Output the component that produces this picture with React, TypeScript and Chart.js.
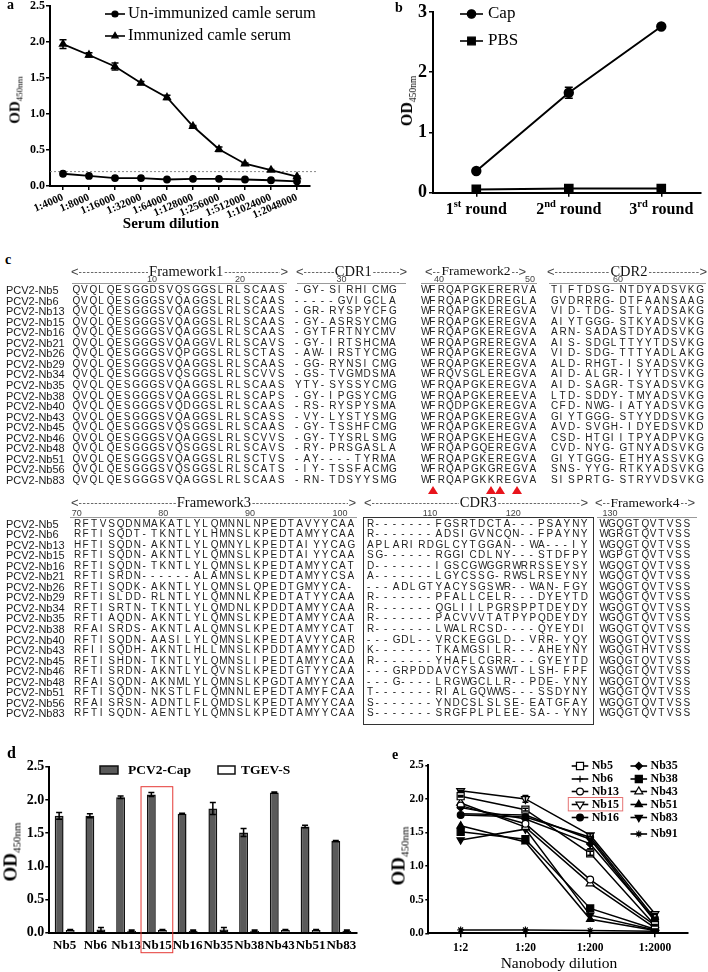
import React, { useEffect, useRef } from 'react';
import { Chart, registerables } from 'chart.js';
import { drawPoint } from 'chart.js/helpers';

Chart.register(...registerables);
Chart.defaults.color = '#000';

const SERIF = '"Liberation Serif", "Times New Roman", serif';
const SANS = '"Liberation Sans", Arial, sans-serif';

// ---------------- Panel a data ----------------
const serumDilutions = ['1:4000', '1:8000', '1:16000', '1:32000', '1:64000', '1:128000', '1:256000', '1:512000', '1:1024000', '1:2048000'];
const unimmunizedOD = [0.17, 0.14, 0.11, 0.11, 0.09, 0.1, 0.1, 0.09, 0.08, 0.065];
const immunizedOD = [1.97, 1.82, 1.66, 1.43, 1.23, 0.83, 0.51, 0.31, 0.22, 0.13];
const immunizedErr = [0.06, 0.03, 0.05, 0.02, 0.03, 0.01, 0.03, 0.01, 0.01, 0.01];
const cutoffOD = 0.2;

// ---------------- Panel b data ----------------
const roundNumbers = ['1', '2', '3'];
const roundSuffixes = ['st', 'nd', 'rd'];
const capOD = [0.36, 1.66, 2.76];
const capErr = [0.02, 0.09, 0.02];
const pbsOD = [0.055, 0.07, 0.07];

// ---------------- Panel c data ----------------
const seqNames = ['PCV2-Nb5', 'PCV2-Nb6', 'PCV2-Nb13', 'PCV2-Nb15', 'PCV2-Nb16', 'PCV2-Nb21', 'PCV2-Nb26', 'PCV2-Nb29', 'PCV2-Nb34', 'PCV2-Nb35', 'PCV2-Nb38', 'PCV2-Nb40', 'PCV2-Nb43', 'PCV2-Nb45', 'PCV2-Nb46', 'PCV2-Nb48', 'PCV2-Nb51', 'PCV2-Nb56', 'PCV2-Nb83'];
const fw1Seqs = ['QVQLQESGGDSVQSGGSLRLSCAAS', 'QVQLQESGGGSVQAGGSLRLSCAAS', 'QVQLQESGGGSVQAGGSLRLSCAAS', 'QVQLQESGGGSVQAGGSLRLSCAAS', 'QVQLQESGGGSVQAGGSLRLSCAAS', 'QVQLQESGGGSVQAGGVLRLSCAVS', 'QVQLQESGGGSVQPGGSLRLSCTAS', 'QVQLQESGGGSVQAGGSLRLSCAAS', 'QVQLQESGGGSVQSGGSLRLSCVVS', 'QVQLQESGGGSVQAGGSLRLSCAAS', 'QVQLQESGGGSVQAGGSLRLSCAPS', 'QVQLQESGGGSVQDGGSLRLSCAAS', 'QVQLQESGGGSVQAGGSLRLSCASS', 'QVQLQESGGGSVQSGGSLRLSCAAS', 'QVQLQESGGGSVQAGGSLRLSCVVS', 'QVQLQESGGGSVQSGGSLRLSCAVS', 'QVQLQESGGGSVQAGGSLRLSCTVS', 'QVQLQESGGGSVQSGGSLRLSCATS', 'QVQLQESGGGSVQAGGSLRLSCAAS'];
const cdr1Seqs = ['-GY-SIRHICMG', '-----GVIGCLA', '-GR-RYSPYCFG', '-GY-ASRSYCMG', '-GYTFRTNYCMV', '-GY-IRTSHCMA', '-AW-IRSTYCMG', '-GG-RYNSICMG', '-GS-TVGMDSMA', 'YTY-SYSSYCMG', '-GY-IPGSYCMG', '-RS-RYSPYSMA', '-VY-LYSTYSMG', '-GY-TSSHFCMG', '-GY-TYSRLSMG', '-RY-PRSGASLA', '-AY----TYRMA', '-IY-TSSFACMG', '-RN-TDSYYSMG'];
const fw2Seqs = ['WFRQAPGKERERVA', 'WFRQAPGKDREGLA', 'WFRQAPGKEREGVA', 'WFRQAPGKEREGVA', 'WFRQAPGKEREGVA', 'WFRQAPGREREGVA', 'WFRQAPGKEREGVA', 'WFRQAPGKEREGVA', 'WFRQVSGLEREGVA', 'WFRQAPGKEREGVA', 'WFRQAPGKEREEVA', 'WFRQDPGKEREGVA', 'WFRQAPGKEREGVA', 'WFRQAPGKEREGVA', 'WFRQAPGKEHEGVA', 'WFRQAPGQEREGVA', 'WFRQAPGKEREGVA', 'WFRQAPGKGREGVA', 'WFRQAPGKKREGVA'];
const cdr2Seqs = ['TIFTDSG-NTDYADSVKG', 'GVDRRRG-DTFAANSAAG', 'VID-TDG-STLYADSAKG', 'AIYTGGG-STKYADSVKG', 'ARN-SADASTDYADSVKG', 'AIS-SDGLTTYYTDSVKG', 'VID-SDG-TTTYADLAKG', 'ALD-RHGT-ISYADSVKG', 'AID-ALGR-IYYTDSVKG', 'AID-SAGR-TSYADSVKG', 'LTD-SDDY-TMYADSVKG', 'CFD-NWG-IATYADSVKG', 'GIYTGGG-STYYDDSVKG', 'AVD-SVGH-IDYEDSVKD', 'CSD-HTGIITPYADPVKG', 'CVD-NYG-GTNYADSVKG', 'GIYTGGG-ETHYASSVKG', 'SNS-YYG-RTKYADSVKG', 'SISPRTG-STRYVDSVKG'];
const fw3Seqs = ['RFTVSQDNMAKATLYLQMNNLNPEDTAVYYCAA', 'RFTISQDT-TKNTLYLHMNSLKPEDTAMYYCAA', 'HFTISQDN-AKNTLYLQMNYLKPEDTAIYYCAG', 'RFTISQDN-AKNTLYLQMNSLKPEDTAIYYCAA', 'RFTISQDN-TKNTLYLQMNSLKPEDTAMYYCAT', 'RFTISRDN------ALAMNSLKPEDTAMYYCSA', 'RFTISQDK-AKNTLYLQMNSLQPEDTGMYYCA-', 'RFTISLDD-RLNTLYLQMNNLKPEDTATYYCAA', 'RFTISRTN-TKNTLYLQMDNLKPDDTAMYYCAA', 'RFTIAQDN-AKNTLYLQMNSLKPEDTAMYYCAA', 'RFAISRDS-AKNTLALQMNSLKPEDTAMYYCAT', 'RFTISQDN-AASILYLQMNSLKPEDTAVYYCAR', 'RFIISQDH-AKNTLHLLMNSLKPDDTAMYYCAD', 'RFTISHDN-TKNTLYLQMNSLIPEDTAMYYCAA', 'RFTISRDN-AKNTLYLQVNSLKPEDTGTYYCAA', 'RFAISQDN-AKNMLYLQMNSLKPGDTAMYYCAA', 'RFTISQDN-NKSTLFLQMNNLEPEDTAMYFCAA', 'RFAISRSN-ADNTLFLQMDSLKPEDTAMYYCAA', 'RFTISQDN-AENTLYLQMNSLKPEDTAMYYCAA'];
const cdr3Seqs = ['R-------FGSRTDCTA---PSAYNY', 'R-------ADSIGVNCQN--FPAYNY', 'APLARIRDGLCYTGGAN--WA---IY', 'SG------RGGICDLNY---STDFPY', 'D-------IGSCGWGGRWRRSSEYSY', 'A-------LGYCSSG-RWSLRSEYNY', '---ADLGTYACYSGSWR--WAN-FGY', 'R-------PFALLCELR---DYEYTD', 'R-------QGLIILPGRSPPTDEYDY', 'R-------PACVVVTATPYPQDEYDY', 'R-------LWALRCSD----QYEYDI', '---GDL--VRCKEGGLD--VRR-YQY', 'K-------TKAMGSILR---AHEYNY', 'R-------YHAFLCGRR---GYEYTD', '---GRPDDAVCYSASWWT-LSH-FPF', '---G----LRGWGCLLR--PDE-YNY', 'T-------RIALGQWWS---SSDYNY', 'S-------YNDCSLSLSE-EATGFAY', 'S-------SRGFPLPLEE-SA--YNY'];
const fw4Seqs = ['WGQGTQVTVSS', 'WGRGTQVTVSS', 'WGQGTQVTVSS', 'WGPGTQVTVSS', 'WGQGTQVTVSS', 'WGQGTQVTVSS', 'WGQGTQVTVSS', 'WGQGTQVTVSS', 'WGQGTQVTVSS', 'WGQGTQVTVSS', 'WGQGTQVTVSS', 'WGQGTQVTVSS', 'WGQGTHVTVSS', 'WGQGTQVTVSS', 'WGQGTQVTVSS', 'WGQGTQVTVSS', 'WGQGTQVTVSS', 'WGQGTQVTVSS', 'WGQGTQVTVSS'];
const hallmarkIdx = [1, 8, 9, 11];

// ---------------- Panel d data ----------------
const nanobodiesD = ['Nb5', 'Nb6', 'Nb13', 'Nb15', 'Nb16', 'Nb35', 'Nb38', 'Nb43', 'Nb51', 'Nb83'];
const pcv2CapOD = [1.76, 1.76, 2.04, 2.08, 1.79, 1.87, 1.51, 2.11, 1.6, 1.38];
const pcv2CapErr = [0.05, 0.03, 0.02, 0.03, 0.01, 0.09, 0.06, 0.01, 0.02, 0.01];
const tgevOD = [0.04, 0.05, 0.03, 0.04, 0.03, 0.05, 0.03, 0.04, 0.04, 0.03];
const tgevErr = [0.01, 0.03, 0.01, 0.01, 0.01, 0.03, 0.01, 0.01, 0.01, 0.01];
const highlightNb = 'Nb15';

// ---------------- Panel e data ----------------
const nanobodyDilutions = ['1:2', '1:20', '1:200', '1:2000'];
const odNb5 = [2.04, 1.84, 1.19, 0.12];
const odNb6 = [1.78, 1.76, 1.4, 0.18];
const odNb13 = [1.9, 1.63, 0.8, 0.12];
const odNb15 = [2.12, 2.0, 1.46, 0.29];
const odNb16 = [1.76, 1.73, 1.43, 0.22];
const odNb35 = [1.87, 1.7, 1.33, 0.2];
const odNb38 = [1.51, 1.4, 0.37, 0.06];
const odNb43 = [1.94, 1.58, 0.74, 0.08];
const odNb51 = [1.6, 1.36, 0.21, 0.04];
const odNb83 = [1.39, 1.55, 0.27, 0.05];
const odNb91 = [0.05, 0.05, 0.04, 0.03];
const errNb5 = [0.01, 0.02, 0.03, 0.01];
const errNb15 = [0.01, 0.05, 0.02, 0.01];
const errNb35 = [0.01, 0.01, 0.07, 0.01];

const eSeries = [
  { label: 'Nb5', data: odNb5, err: errNb5, pointStyle: 'rect', fill: '#fff', radius: 5, rotation: 0 },
  { label: 'Nb6', data: odNb6, err: null, pointStyle: 'cross', fill: '#000', radius: 3.2, rotation: 0 },
  { label: 'Nb13', data: odNb13, err: null, pointStyle: 'circle', fill: '#fff', radius: 3.4, rotation: 0 },
  { label: 'Nb15', data: odNb15, err: errNb15, pointStyle: 'triangle', fill: '#fff', radius: 4.6, rotation: 180 },
  { label: 'Nb16', data: odNb16, err: null, pointStyle: 'circle', fill: '#000', radius: 3.4, rotation: 0 },
  { label: 'Nb35', data: odNb35, err: errNb35, pointStyle: 'rectRot', fill: '#000', radius: 3.6, rotation: 0 },
  { label: 'Nb38', data: odNb38, err: null, pointStyle: 'rect', fill: '#000', radius: 5, rotation: 0 },
  { label: 'Nb43', data: odNb43, err: null, pointStyle: 'triangle', fill: '#fff', radius: 4.6, rotation: 0 },
  { label: 'Nb51', data: odNb51, err: null, pointStyle: 'triangle', fill: '#000', radius: 4.2, rotation: 0 },
  { label: 'Nb83', data: odNb83, err: null, pointStyle: 'triangle', fill: '#000', radius: 4.2, rotation: 180 },
  { label: 'Nb91', data: odNb91, err: null, pointStyle: 'star', fill: '#000', radius: 3.4, rotation: 0 },
];

// ---------------- helpers ----------------
const errorBarPlugin = {
  id: 'errorBars',
  afterDatasetsDraw(chart: any) {
    const ctx = chart.ctx;
    const ys = chart.scales.y;
    chart.data.datasets.forEach((ds: any, di: number) => {
      if (!ds.errors) return;
      const meta = chart.getDatasetMeta(di);
      ctx.save();
      ctx.strokeStyle = '#000';
      ctx.lineWidth = ds.errorWidth || 1.5;
      const cap = ds.errorCap || 3;
      meta.data.forEach((el: any, i: number) => {
        const e = ds.errors[i];
        if (!e) return;
        const raw = ds.data[i];
        const v = typeof raw === 'number' ? raw : raw.y;
        const x = el.x;
        const y1 = ys.getPixelForValue(v + e);
        const y2 = ys.getPixelForValue(v - e);
        ctx.beginPath();
        ctx.moveTo(x, y1); ctx.lineTo(x, y2);
        ctx.moveTo(x - cap, y1); ctx.lineTo(x + cap, y1);
        ctx.moveTo(x - cap, y2); ctx.lineTo(x + cap, y2);
        ctx.stroke();
      });
      ctx.restore();
    });
  },
};

function legendLine(ctx: any, x1: number, x2: number, y: number, st: any) {
  ctx.save();
  ctx.strokeStyle = '#000';
  ctx.lineWidth = 1.6;
  ctx.beginPath(); ctx.moveTo(x1, y); ctx.lineTo(x2, y); ctx.stroke();
  ctx.fillStyle = st.fill;
  ctx.strokeStyle = '#000';
  ctx.lineWidth = 1.2;
  drawPoint(ctx, { pointStyle: st.pointStyle, radius: st.radius, rotation: st.rotation || 0, borderWidth: 1.2 } as any, (x1 + x2) / 2, y);
  ctx.restore();
}

function yAxis(width: number, min: number, max: number, step: number, size: number, tickLength: number, pad: number, decimals: number) {
  return {
    min, max,
    ticks: {
      stepSize: step, color: '#000', padding: pad,
      font: { family: SERIF, size, weight: 'bold' },
      callback: (v: any) => Number(v).toFixed(decimals),
    },
    grid: { display: true, drawOnChartArea: false, drawTicks: true, tickLength, color: '#000', lineWidth: 1.5 },
    border: { display: true, color: '#000', width: 2 },
    afterFit: (s: any) => { s.width = width; s.paddingTop = 0; s.paddingBottom = 0; },
  };
}

function xAxis(height: number, size: number, pad: number, opts: any = {}) {
  return {
    type: 'category', offset: true,
    ticks: {
      color: '#000', padding: pad, autoSkip: false,
      minRotation: opts.rotation || 0, maxRotation: opts.rotation || 0,
      font: { family: SERIF, size, weight: 'bold' },
    },
    grid: { display: true, drawOnChartArea: false, drawTicks: opts.drawTicks !== false, tickLength: 4, color: '#000', lineWidth: 1.5, offset: !!opts.gridOffset },
    border: { display: true, color: '#000', width: 2 },
    afterFit: (s: any) => { s.height = height; s.paddingLeft = 0; s.paddingRight = 0; },
  };
}

const baseOptions = (padding: any) => ({
  responsive: false,
  animation: false,
  events: [],
  layout: { padding },
  plugins: { legend: { display: false }, tooltip: { enabled: false } },
});

function ChartCanvas({ left, top, width, height, make }: any) {
  const ref = useRef<HTMLCanvasElement>(null);
  useEffect(() => {
    const chart = new Chart(ref.current as any, make());
    return () => chart.destroy();
  }, []);
  return <canvas ref={ref} width={width} height={height} style={{ position: 'absolute', left, top, width, height }} />;
}

// ---------------- chart configs ----------------
function makeA(): any {
  return {
    type: 'line',
    data: {
      labels: serumDilutions,
      datasets: [
        { data: unimmunizedOD, borderColor: '#000', borderWidth: 1.8, pointStyle: 'circle', pointRadius: 3, pointBackgroundColor: '#000', pointBorderColor: '#000' },
        { data: immunizedOD, errors: immunizedErr, errorCap: 3.5, borderColor: '#000', borderWidth: 1.8, pointStyle: 'triangle', pointRadius: 3.6, pointBackgroundColor: '#000', pointBorderColor: '#000' },
      ],
    },
    options: {
      ...baseOptions({ left: 0, right: 20, top: 6, bottom: 0 }),
      scales: {
        x: xAxis(54, 11, 1, { rotation: 23 }),
        y: yAxis(50, 0, 2.5, 0.5, 12, 4, 1, 1),
      },
    },
    plugins: [
      errorBarPlugin,
      {
        id: 'aExtras',
        beforeDatasetsDraw(chart: any) {
          const ctx = chart.ctx;
          const y = chart.scales.y.getPixelForValue(cutoffOD);
          ctx.save();
          ctx.setLineDash([2, 2]);
          ctx.strokeStyle = '#888';
          ctx.lineWidth = 1;
          ctx.beginPath(); ctx.moveTo(chart.chartArea.left, y); ctx.lineTo(chart.chartArea.right + 8, y); ctx.stroke();
          ctx.restore();
        },
        afterDraw(chart: any) {
          const ctx = chart.ctx;
          legendLine(ctx, 105, 125, 14, { pointStyle: 'circle', radius: 3, fill: '#000' });
          legendLine(ctx, 105, 125, 36, { pointStyle: 'triangle', radius: 3.6, fill: '#000' });
          ctx.save();
          ctx.fillStyle = '#000';
          ctx.font = `16.5px ${SERIF}`;
          ctx.textBaseline = 'middle';
          ctx.fillText('Un-immunized camle serum', 128, 14);
          ctx.fillText('Immunized camle serum', 128, 36);
          ctx.restore();
        },
      },
    ],
  };
}

function makeB(): any {
  return {
    type: 'line',
    data: {
      datasets: [
        { data: capOD.map((v, i) => ({ x: i, y: v })), errors: capErr, errorCap: 4, borderColor: '#000', borderWidth: 2, pointStyle: 'circle', pointRadius: 4.2, pointBackgroundColor: '#000', pointBorderColor: '#000' },
        { data: pbsOD.map((v, i) => ({ x: i, y: v })), borderColor: '#000', borderWidth: 2, pointStyle: 'rect', pointRadius: 5.4, pointBackgroundColor: '#000', pointBorderColor: '#000' },
      ],
    },
    options: {
      ...baseOptions({ left: 0, right: 5, top: 12, bottom: 0 }),
      scales: {
        x: {
          type: 'linear', min: -0.468, max: 2.425,
          afterBuildTicks: (s: any) => { s.ticks = roundNumbers.map((_, i) => ({ value: i })); },
          ticks: { display: false },
          grid: { display: true, drawOnChartArea: false, drawTicks: true, tickLength: 4, color: '#000', lineWidth: 1.5 },
          border: { display: true, color: '#000', width: 2 },
          afterFit: (s: any) => { s.height = 47.3; s.paddingLeft = 0; s.paddingRight = 0; },
        },
        y: yAxis(73, 0, 3, 1, 18, 4, 2, 0),
      },
    },
    plugins: [
      errorBarPlugin,
      {
        id: 'bExtras',
        afterDraw(chart: any) {
          const ctx = chart.ctx;
          const xs = chart.scales.x;
          ctx.save();
          ctx.fillStyle = '#000';
          ctx.textAlign = 'left';
          ctx.textBaseline = 'alphabetic';
          const big = `bold 16px ${SERIF}`;
          const small = `bold 10.5px ${SERIF}`;
          const by = chart.chartArea.bottom + 21;
          roundNumbers.forEach((n, i) => {
            const x = xs.getPixelForValue(i);
            ctx.font = big;
            const wn = ctx.measureText(n).width;
            const wr = ctx.measureText(' round').width;
            ctx.font = small;
            const ws = ctx.measureText(roundSuffixes[i]).width;
            let sx = x - (wn + ws + wr) / 2;
            ctx.font = big; ctx.fillText(n, sx, by); sx += wn;
            ctx.font = small; ctx.fillText(roundSuffixes[i], sx, by - 7); sx += ws;
            ctx.font = big; ctx.fillText(' round', sx, by);
          });
          legendLine(ctx, 100, 123, 14, { pointStyle: 'circle', radius: 4.2, fill: '#000' });
          legendLine(ctx, 100, 123, 41, { pointStyle: 'rect', radius: 5.4, fill: '#000' });
          ctx.font = `17px ${SERIF}`;
          ctx.textBaseline = 'middle';
          ctx.fillText('Cap', 128, 14);
          ctx.fillText('PBS', 128, 41);
          ctx.restore();
        },
      },
    ],
  };
}

function makeD(): any {
  return {
    type: 'bar',
    data: {
      labels: nanobodiesD,
      datasets: [
        { label: 'PCV2-Cap', data: pcv2CapOD, errors: pcv2CapErr, errorCap: 3, backgroundColor: '#5a5a5a', borderColor: '#111', borderWidth: 1.5, categoryPercentage: 0.72, barPercentage: 0.8 },
        { label: 'TGEV-S', data: tgevOD, errors: tgevErr, errorCap: 3, backgroundColor: '#fff', borderColor: '#111', borderWidth: 1.5, categoryPercentage: 0.72, barPercentage: 0.8 },
      ],
    },
    options: {
      ...baseOptions({ left: 0, right: 3.3, top: 26.7, bottom: 0 }),
      scales: {
        x: xAxis(39.3, 13, 5, { drawTicks: false, gridOffset: true }),
        y: yAxis(49.3, 0, 2.5, 0.5, 14, 4, 1, 1),
      },
    },
    plugins: [
      errorBarPlugin,
      {
        id: 'dExtras',
        afterDraw(chart: any) {
          const ctx = chart.ctx;
          ctx.save();
          ctx.lineWidth = 1.5;
          ctx.strokeStyle = '#111';
          ctx.fillStyle = '#5a5a5a';
          ctx.fillRect(100, 26, 18, 8); ctx.strokeRect(100, 26, 18, 8);
          ctx.fillStyle = '#fff';
          ctx.fillRect(218, 26, 17, 8); ctx.strokeRect(218, 26, 17, 8);
          ctx.fillStyle = '#000';
          ctx.font = `bold 13.5px ${SERIF}`;
          ctx.textBaseline = 'middle';
          ctx.fillText('PCV2-Cap', 128, 30.5);
          ctx.fillText('TGEV-S', 241, 30.5);
          const xs = chart.scales.x;
          const idx = nanobodiesD.indexOf(highlightNb);
          const cw = xs.width / nanobodiesD.length;
          const cx = xs.getPixelForValue(idx);
          ctx.strokeStyle = '#e53935';
          ctx.lineWidth = 1;
          ctx.strokeRect(cx - cw / 2 - 0.5, 46.7, cw + 1, 166);
          ctx.restore();
        },
      },
    ],
  };
}

function makeE(): any {
  return {
    type: 'line',
    data: {
      labels: nanobodyDilutions,
      datasets: eSeries.map((s) => ({
        label: s.label, data: s.data, errors: s.err, errorCap: 3,
        borderColor: '#000', borderWidth: 1.5,
        pointStyle: s.pointStyle, pointRadius: s.radius, pointRotation: s.rotation,
        pointBackgroundColor: s.fill, pointBorderColor: '#000', pointBorderWidth: 1.2,
      })),
    },
    options: {
      ...baseOptions({ left: 0, right: 20.7, top: 25.3, bottom: 0 }),
      scales: {
        x: xAxis(38.7, 11.5, 4, {}),
        y: yAxis(68.3, 0, 2.5, 0.5, 11.5, 3, 1.5, 1),
      },
    },
    plugins: [
      errorBarPlugin,
      {
        id: 'eExtras',
        afterDraw(chart: any) {
          const ctx = chart.ctx;
          const rows1 = [26, 39, 51.5, 64.5, 77.5];
          const rows2 = [26, 39, 51.5, 64.5, 77.5, 94];
          ctx.save();
          eSeries.forEach((s, i) => {
            const col2 = i >= 5;
            const y = col2 ? rows2[i - 5] : rows1[i];
            const x1 = col2 ? 270.5 : 211.7;
            legendLine(ctx, x1, x1 + 16.6, y, s);
            ctx.fillStyle = '#000';
            ctx.font = `bold 12px ${SERIF}`;
            ctx.textBaseline = 'middle';
            ctx.fillText(s.label, x1 + 20, y);
          });
          ctx.strokeStyle = '#e57373';
          ctx.lineWidth = 1;
          const hi = eSeries.findIndex((s) => s.label === highlightNb);
          const hy = rows1[hi];
          ctx.strokeRect(208.3, hy - 7, 54.4, 13.4);
          ctx.restore();
        },
      },
    ],
  };
}

// ---------------- HTML pieces ----------------
function Txt({ x, y, children, style }: any) {
  return <div style={{ position: 'absolute', left: x, top: y, whiteSpace: 'nowrap', color: '#000', ...style }}>{children}</div>;
}

function YTitle({ cx, cy, size, sub }: any) {
  return (
    <div style={{ position: 'absolute', left: cx, top: cy, transform: 'translate(-50%, -50%) rotate(-90deg)', whiteSpace: 'nowrap', fontFamily: SERIF, fontWeight: 'bold', fontSize: size, lineHeight: 1, color: '#000' }}>
      OD<span style={{ fontSize: sub, fontWeight: 'normal', position: 'relative', top: size * 0.22 }}>450nm</span>
    </div>
  );
}

const ROW_H = 10.55;
const DASHES = '-'.repeat(80);

function Header({ x1, x2, y, label, lc, size }: any) {
  const L = lc - x1;
  const R = x2 - lc;
  const dashStyle: any = { flexGrow: 0, flexShrink: 1, flexBasis: 0, overflow: 'hidden', whiteSpace: 'nowrap', fontFamily: SANS, fontSize: 10, color: '#555', letterSpacing: '0.6px' };
  return (
    <div style={{ position: 'absolute', left: x1, top: y - 10, width: x2 - x1, height: 20, display: 'flex', alignItems: 'center' }}>
      <span style={{ fontFamily: SANS, fontSize: 13, color: '#444' }}>&lt;</span>
      <span style={{ ...dashStyle, flexGrow: L }}>{DASHES}</span>
      <span style={{ fontFamily: SERIF, fontSize: size, color: '#111', padding: '0 1px' }}>{label}</span>
      <span style={{ ...dashStyle, flexGrow: R }}>{DASHES}</span>
      <span style={{ fontFamily: SANS, fontSize: 13, color: '#444' }}>&gt;</span>
    </div>
  );
}

function SeqRows({ segs, y0 }: any) {
  const out: any[] = [];
  seqNames.forEach((name, r) => {
    const y = y0 + r * ROW_H;
    out.push(
      <div key={'n' + r} style={{ position: 'absolute', left: 6, top: y - 7, height: 14, lineHeight: '14px', fontFamily: SANS, fontSize: 11, color: '#1a1a1a', whiteSpace: 'nowrap' }}>{name}</div>
    );
    segs.forEach((sg: any, si: number) => {
      const s: string = sg.seqs[r];
      out.push(
        <div key={`s${r}_${si}`} style={{ position: 'absolute', left: sg.x0, top: y - 6, height: 12, lineHeight: '12px', fontFamily: SANS, fontSize: 10, color: '#222', whiteSpace: 'nowrap' }}>
          {s.split('').map((ch, k) => (
            <span key={k} style={{ display: 'inline-block', width: sg.cell }}>{ch}</span>
          ))}
        </div>
      );
    });
  });
  return <>{out}</>;
}

function NumLabel({ t, x, y }: any) {
  return <div style={{ position: 'absolute', left: x - 15, top: y - 6, width: 30, textAlign: 'center', lineHeight: '12px', fontFamily: SANS, fontSize: 9, color: '#444' }}>{t}</div>;
}

function Rule({ x1, x2, y }: any) {
  return <div style={{ position: 'absolute', left: x1, top: y, width: x2 - x1, height: 1, background: '#999' }} />;
}

function PanelC() {
  const seg1 = [
    { seqs: fw1Seqs, x0: 72.5, cell: 8.55 },
    { seqs: cdr1Seqs, x0: 295, cell: 8.55 },
    { seqs: fw2Seqs, x0: 421, cell: 8.35 },
    { seqs: cdr2Seqs, x0: 551, cell: 8.55 },
  ];
  const seg2 = [
    { seqs: fw3Seqs, x0: 74, cell: 8.55 },
    { seqs: cdr3Seqs, x0: 367, cell: 8.55 },
    { seqs: fw4Seqs, x0: 599.5, cell: 8.4 },
  ];
  const fw2 = seg1[2];
  return (
    <>
      <Header x1={71} x2={288} y={271} label="Framework1" lc={191} size={14.5} />
      <Header x1={296} x2={407} y={271} label="CDR1" lc={355} size={14.5} />
      <Header x1={425} x2={526} y={271} label="Framework2" lc={479} size={13.5} />
      <Header x1={547} x2={707} y={271} label="CDR2" lc={630} size={14.5} />
      {[['10', 152], ['20', 240], ['30', 341.5], ['40', 439], ['50', 530], ['60', 618]].map(([t, x]: any) => <NumLabel key={t} t={t} x={x} y={278.5} />)}
      <Rule x1={72} x2={287} y={283} />
      <Rule x1={297} x2={406} y={283} />
      <Rule x1={421} x2={537} y={283} />
      <Rule x1={549} x2={706} y={283} />
      <SeqRows segs={seg1} y0={290} />
      {hallmarkIdx.map((k) => (
        <div key={'t' + k} style={{ position: 'absolute', left: fw2.x0 + k * fw2.cell + fw2.cell / 2 - 5.5, top: 486, width: 0, height: 0, borderLeft: '5.5px solid transparent', borderRight: '5.5px solid transparent', borderBottom: '8.5px solid #e8141c' }} />
      ))}
      <Header x1={71} x2={356} y={502.5} label="Framework3" lc={214} size={14.5} />
      <Header x1={364} x2={588} y={502.5} label="CDR3" lc={479} size={14.5} />
      <Header x1={595} x2={695} y={502.5} label="Framework4" lc={645} size={13.5} />
      {[['70', 76.7], ['80', 163.3], ['90', 250], ['100', 340], ['110', 430], ['120', 513.3], ['130', 610]].map(([t, x]: any) => <NumLabel key={t} t={t} x={x} y={513} />)}
      <Rule x1={70} x2={357} y={517} />
      <Rule x1={597} x2={697} y={517} />
      <div style={{ position: 'absolute', left: 363, top: 517, width: 229, height: 206, border: '1px solid #333' }} />
      <SeqRows segs={seg2} y0={523.5} />
    </>
  );
}

export default function App() {
  const letter = { fontFamily: SERIF, fontWeight: 'bold', lineHeight: 1 } as any;
  return (
    <div style={{ position: 'absolute', left: 0, top: 0, width: 708, height: 972, background: '#fff', overflow: 'hidden' }}>
      <ChartCanvas left={0} top={0} width={330} height={240} make={makeA} />
      <ChartCanvas left={360} top={0} width={348} height={240} make={makeB} />
      <ChartCanvas left={0} top={740} width={360} height={232} make={makeD} />
      <ChartCanvas left={360} top={740} width={348} height={232} make={makeE} />

      <Txt x={7} y={-1.7} style={{ ...letter, fontSize: 14 }}>a</Txt>
      <Txt x={395} y={1.3} style={{ ...letter, fontSize: 14 }}>b</Txt>
      <Txt x={5} y={253.3} style={{ ...letter, fontSize: 14 }}>c</Txt>
      <Txt x={7} y={744.6} style={{ ...letter, fontSize: 16 }}>d</Txt>
      <Txt x={392} y={748.3} style={{ ...letter, fontSize: 14 }}>e</Txt>

      <YTitle cx={15} cy={100} size={15} sub={9} />
      <YTitle cx={407} cy={101} size={16} sub={9.5} />
      <YTitle cx={10} cy={852} size={19} sub={11} />
      <YTitle cx={398} cy={856} size={19} sub={11} />

      <div style={{ position: 'absolute', left: 171, top: 223, transform: 'translate(-50%, -50%)', whiteSpace: 'nowrap', fontFamily: SERIF, fontWeight: 'bold', fontSize: 15, lineHeight: 1 }}>Serum dilution</div>
      <div style={{ position: 'absolute', left: 559, top: 963, transform: 'translate(-50%, -50%)', whiteSpace: 'nowrap', fontFamily: SERIF, fontSize: 15.5, lineHeight: 1 }}>Nanobody dilution</div>

      <PanelC />
    </div>
  );
}
